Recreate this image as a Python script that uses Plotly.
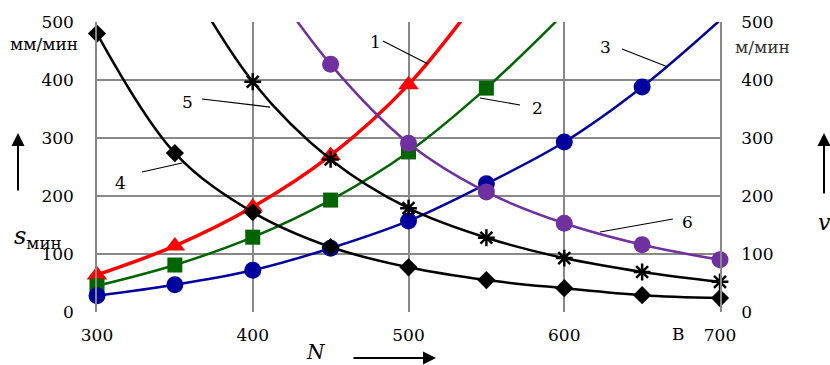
import plotly.graph_objects as go

N = [300, 350, 400, 450, 500, 550, 600, 650, 700]

s1 = [64, 114, 181, 270, 392, 560, None, None, None]
s2 = [45, 81, 129, 193, 276, 386, 515, None, None]
s3 = [28, 47, 72, 110, 157, 221, 293, 388, 503]
v4 = [480, 274, 172, 112, 77, 55, 41, 29, 24]
v5 = [None, 610, 397, 263, 179, 128, 93, 69, 52]
v6 = [None, None, 610, 427, 291, 207, 153, 116, 90]

series = [
    ("1", s1, "#FF0000", 3.5, "triangle-up", 18),
    ("2", s2, "#006400", 2.5, "square", 15),
    ("3", s3, "#00009C", 2.5, "circle", 17),
    ("4", v4, "#000000", 2.5, "diamond", 14),
    ("5", v5, "#000000", 2.5, "asterisk-open", 14),
    ("6", v6, "#7030A0", 2.5, "circle", 17),
]

YMAX = 500
FAM = "DejaVu Serif"
fig = go.Figure()
for name, ys, col, lw, sym, ms in series:
    xs = [x for x, y in zip(N, ys) if y is not None]
    yv = [y for y in ys if y is not None]
    fig.add_trace(go.Scatter(x=xs, y=yv, mode="lines", line=dict(color=col, width=lw, shape="spline", smoothing=1.0),
                             showlegend=False, hoverinfo="skip"))
    mx = [x for x, y in zip(xs, yv) if y <= YMAX]
    my = [y for y in yv if y <= YMAX]
    lw_m = 2.5 if sym == "asterisk-open" else 0
    fig.add_trace(go.Scatter(x=mx, y=my, mode="markers", cliponaxis=False,
                             marker=dict(symbol=sym, size=ms, color=col, line=dict(color=col, width=lw_m)),
                             showlegend=False))

# dummy trace on right axis
fig.add_trace(go.Scatter(x=[300], y=[0], yaxis="y2", mode="markers", marker=dict(opacity=0), showlegend=False, hoverinfo="skip"))

font = dict(family=FAM, size=17, color="#000")
grid = "#888888"
fig.update_layout(
    width=830, height=365, margin=dict(l=97, r=110, t=22, b=53),
    plot_bgcolor="white", paper_bgcolor="white", font=font,
    xaxis=dict(range=[300, 700], dtick=100, showgrid=True, gridcolor=grid, gridwidth=1.5,
               zeroline=False, showline=False, ticks="", ticklabelstandoff=11, tickfont=font),
    yaxis=dict(range=[0, YMAX], dtick=100, showgrid=True, gridcolor=grid, gridwidth=1.5,
               zeroline=False, showline=True, linecolor=grid, linewidth=1.5, ticks="",
               ticklabelstandoff=18, tickfont=font),
    yaxis2=dict(range=[0, YMAX], dtick=100, overlaying="y", side="right", showgrid=False,
                zeroline=False, showline=True, linecolor=grid, linewidth=1.5, ticks="",
                ticklabelstandoff=16, tickfont=font),
)

# leader lines and labels
leaders = [
    ("1", (478.5, 465.5), (483.6, 467.2), (512.5, 427.6)),
    ("2", (583.1, 351.7), (545.9, 369.0), (571.6, 356.9)),
    ("3", (626.2, 456.9), (637.1, 453.4), (666.6, 422.4)),
    ("4", (315.4, 222.4), (328.9, 241.4), (354.6, 256.9)),
    ("5", (357.8, 362.1), (367.4, 367.2), (411.1, 353.4)),
    ("6", (679.4, 155.2), (669.8, 160.3), (623.0, 137.9)),
]
for lab, (tx, ty), (x0, y0), (x1, y1) in leaders:
    fig.add_shape(type="line", x0=x0, y0=y0, x1=x1, y1=y1, line=dict(color="black", width=1.2))
    fig.add_annotation(x=tx, y=ty, text=lab, showarrow=False, font=font, xanchor="center", yanchor="middle")

def px(x):
    return (x - 97) / 623.0

def py(y):
    return (312 - y) / 290.0

# units
fig.add_annotation(x=px(80), y=py(44), xref="paper", yref="paper", text="мм/мин", showarrow=False,
                   xanchor="right", yanchor="middle", font=dict(family=FAM, size=17, color="#000"))
fig.add_annotation(x=px(733), y=py(47), xref="paper", yref="paper", text="м/мин", showarrow=False,
                   xanchor="left", yanchor="middle", font=dict(family=FAM, size=17, color="#333"))
fig.add_annotation(x=px(678), y=py(334), xref="paper", yref="paper", text="В", showarrow=False,
                   xanchor="center", yanchor="middle", font=font)
# axis titles
fig.add_annotation(x=px(12), y=py(237), xref="paper", yref="paper",
                   text="<i>s</i><sub>мин</sub>", showarrow=False,
                   xanchor="left", yanchor="middle", font=dict(family=FAM, size=24, color="#000"))
fig.add_annotation(x=px(816), y=py(222), xref="paper", yref="paper", text="<i>v</i>", showarrow=False,
                   xanchor="left", yanchor="middle", font=dict(family=FAM, size=22, color="#000"))
fig.add_annotation(x=px(316), y=py(352), xref="paper", yref="paper", text="<i>N</i>", showarrow=False,
                   xanchor="center", yanchor="middle", font=dict(family=FAM, size=20, color="#000"))
# arrows
for (tip, tail) in [((18, 133), (18, 192)), ((824, 133), (824, 195)), ((436, 358), (352, 358))]:
    fig.add_annotation(x=px(tip[0]), y=py(tip[1]), xref="paper", yref="paper",
                       ax=tail[0] - tip[0], ay=tail[1] - tip[1], axref="pixel", ayref="pixel",
                       text="", showarrow=True, arrowhead=2, arrowsize=1.3, arrowwidth=2, arrowcolor="black")

fig.write_html("out.html")
